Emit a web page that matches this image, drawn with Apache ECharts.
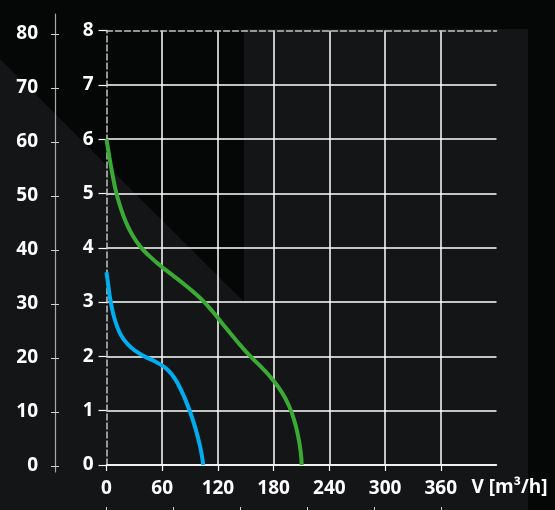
<!DOCTYPE html>
<html>
<head>
<meta charset="utf-8">
<script src="https://cdn.jsdelivr.net/npm/echarts@6/dist/echarts.min.js"></script>
<style>
html,body{margin:0;padding:0;background:#141517;}
#chart{width:555px;height:510px;}
</style>
</head>
<body>
<div id="chart"></div>
<script>
// Flow axis ticks (m3/h), pressure axis ticks
var flowTicks = [0, 60, 120, 180, 240, 300, 360];
var pressureLeftTicks = [0, 10, 20, 30, 40, 50, 60, 70, 80];
var lsTicks = [0, 20, 40, 60, 80, 100];
var flowAxisName = 'V [m³/h]';

// Blue curve
var blueFlow = [0, 2, 4, 7, 11, 16, 23, 32, 42, 52, 60, 66, 72, 78, 84, 90, 95, 99, 102, 104.2];
var bluePressure = [3.55, 3.3, 3.06, 2.8, 2.57, 2.38, 2.22, 2.09, 1.99, 1.91, 1.83, 1.75, 1.63, 1.46, 1.24, 0.98, 0.72, 0.47, 0.24, 0];

// Green curve
var greenFlow = [0, 3, 6, 10, 15, 21, 28, 36, 46, 58, 70, 82, 94, 104, 114, 124, 136, 148, 158, 168, 178, 188, 196, 202, 206, 209, 210.2];
var greenPressure = [6.0, 5.68, 5.39, 5.05, 4.75, 4.47, 4.23, 4.03, 3.85, 3.67, 3.51, 3.35, 3.18, 3.02, 2.83, 2.62, 2.37, 2.13, 1.95, 1.78, 1.59, 1.36, 1.11, 0.83, 0.56, 0.26, 0];

function pairs(xs, ys) { return xs.map(function (x, i) { return [x, ys[i]]; }); }

var font = 'Open Sans';
var labelStyle = { color: '#ffffff', fontFamily: font, fontWeight: 'bold', fontSize: 19 };
var chart = echarts.init(document.getElementById('chart'));
chart.setOption({
  backgroundColor: '#141517',
  animation: false,
  graphic: [{
    type: 'polygon',
    z: -10,
    silent: true,
    shape: { points: [[0,0],[555,0],[555,510],[528,510],[528,29],[244,29],[244,302],[0,59]] },
    style: { fill: '#050606' }
  }],
  grid: [
    { left: 106.5, right: 58.5, top: 30.5, bottom: 45 },
    { left: 55, right: 400, top: 14, bottom: 38 }
  ],
  xAxis: [
    {
      type: 'value', gridIndex: 0, min: 0, max: 420, interval: 60,
      axisLine: { show: true, lineStyle: { color: '#ffffff', width: 1.5 } },
      axisTick: { show: true, length: 6, customValues: flowTicks, lineStyle: { color: '#ffffff', width: 1.2 } },
      axisLabel: Object.assign({ show: true, margin: 14, customValues: flowTicks }, labelStyle),
      splitLine: { show: true, showMinLine: false, lineStyle: { color: '#ffffff', width: 1.5 } },
      name: flowAxisName, nameLocation: 'end', nameGap: -25,
      nameTextStyle: Object.assign({ verticalAlign: 'top', padding: [13, 0, 0, 0] }, labelStyle)
    },
    {
      type: 'value', gridIndex: 0, position: 'top', min: 0, max: 420, interval: 60,
      axisLine: { show: true, lineStyle: { color: '#c4c4c4', width: 1.5, type: [6, 3] } },
      axisTick: { show: false }, axisLabel: { show: false }, splitLine: { show: false }
    },
    {
      type: 'value', gridIndex: 0, position: 'bottom', offset: 42, min: 0, max: 116.667,
      axisLine: { show: false },
      axisTick: { show: true, length: 4, customValues: lsTicks, lineStyle: { color: '#d0d0d0', width: 1 } },
      axisLabel: { show: false }, splitLine: { show: false }
    },
    {
      type: 'value', gridIndex: 1, min: 0, max: 1, show: false
    }
  ],
  yAxis: [
    {
      type: 'value', gridIndex: 0, min: 0, max: 8, interval: 1,
      axisLine: { show: true, lineStyle: { color: '#c4c4c4', width: 1.5, type: [6, 3] } },
      axisTick: { show: true, length: 8, lineStyle: { color: '#ffffff', width: 1.2 } },
      axisLabel: Object.assign({ margin: 13 }, labelStyle),
      splitLine: { show: true, showMaxLine: false, lineStyle: { color: '#ffffff', width: 1.5 } }
    },
    {
      type: 'value', gridIndex: 1, position: 'left', min: -1.11, max: 83.7,
      axisLine: { show: true, lineStyle: { color: '#a8a8a8', width: 1.2 } },
      axisTick: { show: true, inside: true, length: 4, customValues: pressureLeftTicks, lineStyle: { color: '#d0d0d0', width: 1 } },
      axisLabel: { show: false }, splitLine: { show: false }
    },
    {
      type: 'value', gridIndex: 1, position: 'left', min: -1.11, max: 83.7,
      axisLine: { show: false },
      axisTick: { show: true, length: 4, customValues: pressureLeftTicks, lineStyle: { color: '#d0d0d0', width: 1 } },
      axisLabel: Object.assign({ show: true, margin: 17, customValues: pressureLeftTicks }, labelStyle),
      splitLine: { show: false }
    }
  ],
  series: [
    {
      type: 'line', xAxisIndex: 0, yAxisIndex: 0, data: pairs(blueFlow, bluePressure),
      smooth: 0.5, showSymbol: false,
      lineStyle: { color: '#00aeef', width: 4 }, z: 5
    },
    {
      type: 'line', xAxisIndex: 0, yAxisIndex: 0, data: pairs(greenFlow, greenPressure),
      smooth: 0.5, showSymbol: false,
      lineStyle: { color: '#3aaa35', width: 4 }, z: 5
    }
  ]
});
</script>
</body>
</html>
